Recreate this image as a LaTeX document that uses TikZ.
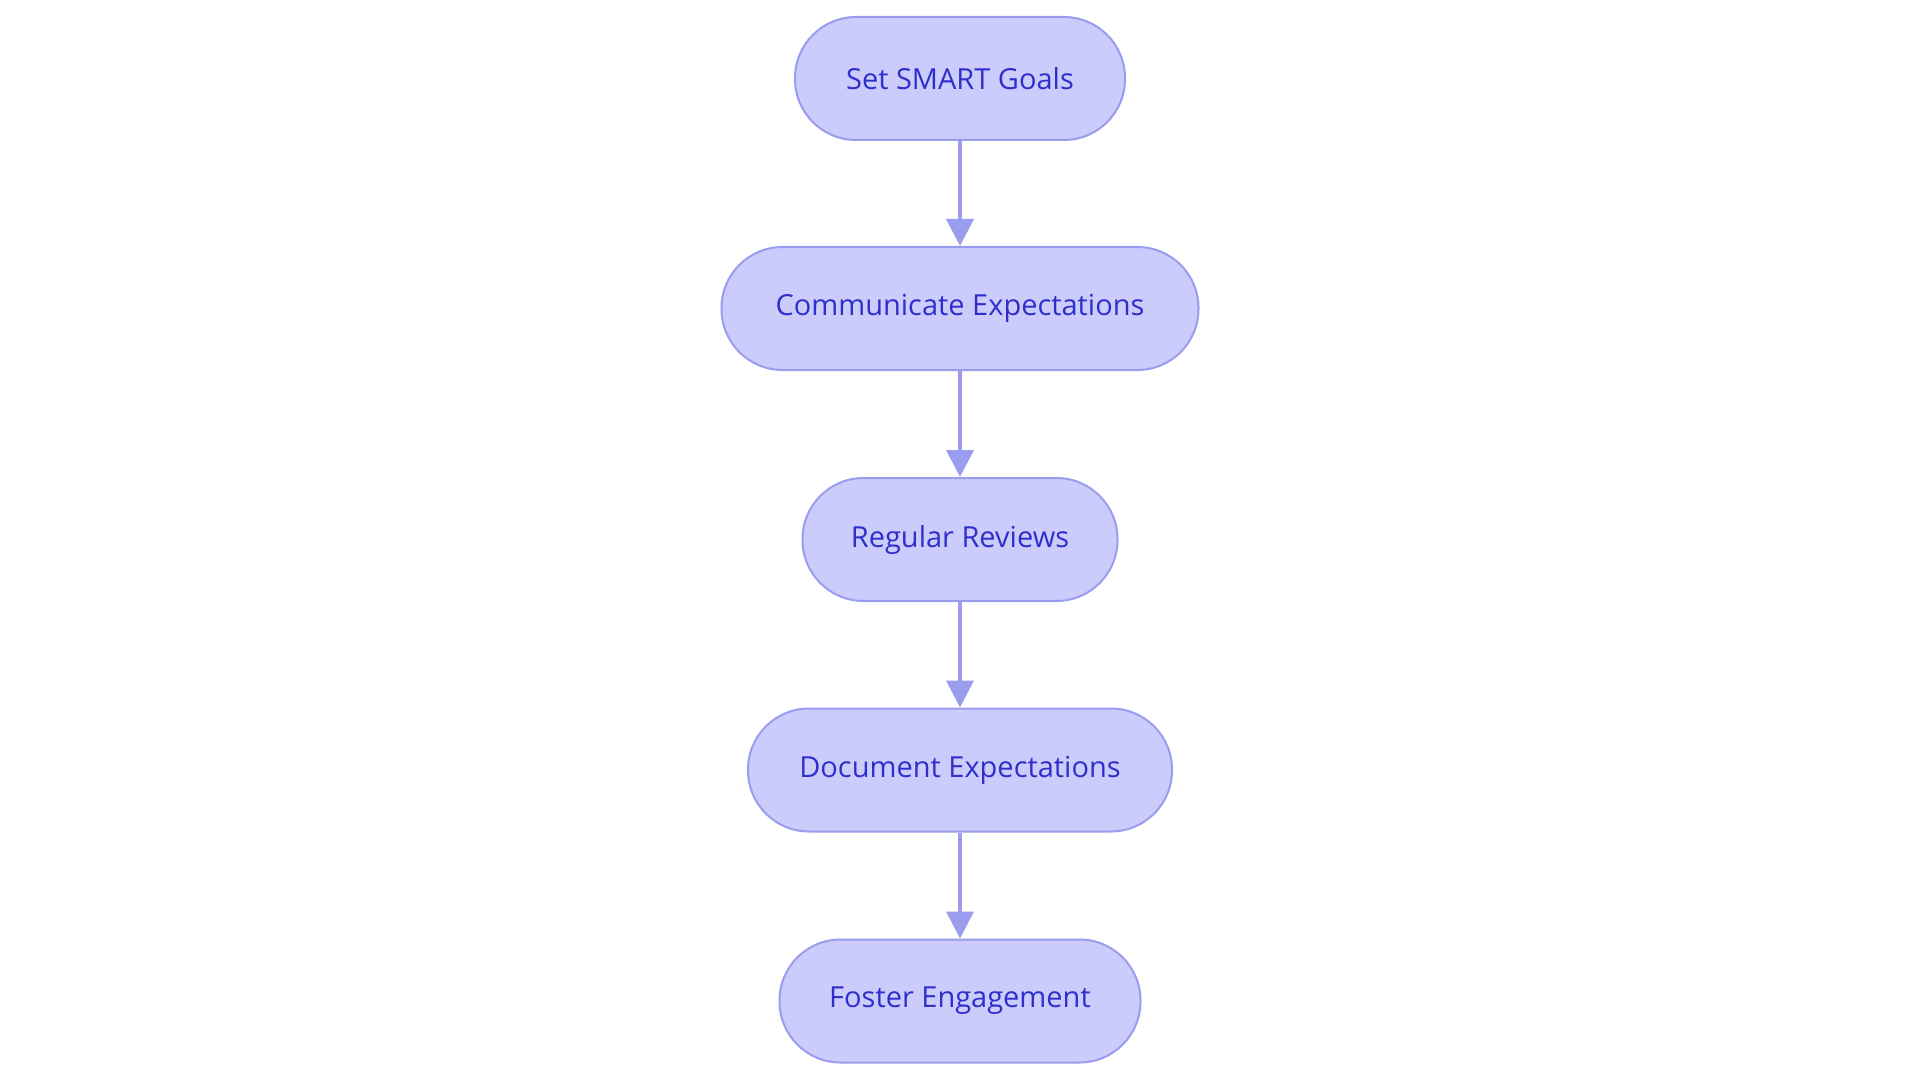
\documentclass[tikz,border=0pt]{standalone}
\usepackage{fontspec}
\setmainfont{Open Sans}
\usetikzlibrary{arrows.meta}
\definecolor{nfill}{HTML}{CBCCFB}
\definecolor{nline}{HTML}{9A9DEE}
\definecolor{ntext}{HTML}{2F2FCC}
\begin{document}
\begin{tikzpicture}[x=1pt,y=-1pt,
  box/.style={draw=nline,line width=2pt,fill=nfill,rounded corners=61pt,minimum height=123pt,inner sep=0pt,text=ntext,font=\fontsize{29}{34}\selectfont},
  arr/.style={draw=nline,line width=4pt,-{Triangle[length=27pt,width=27pt]}}]
\useasboundingbox (0,0) rectangle (1920,1083);
\node[box,minimum width=330pt] (a) at (960,78.5) {Set SMART Goals};
\node[box,minimum width=477pt] (b) at (960,308.5) {Communicate Expectations};
\node[box,minimum width=315pt] (c) at (960,539.5) {Regular Reviews};
\node[box,minimum width=424pt] (d) at (960,770) {Document Expectations};
\node[box,minimum width=361pt] (e) at (960,1001) {Foster Engagement};
\draw[arr] (a) -- (b);
\draw[arr] (b) -- (c);
\draw[arr] (c) -- (d);
\draw[arr] (d) -- (e);
\end{tikzpicture}
\end{document}
